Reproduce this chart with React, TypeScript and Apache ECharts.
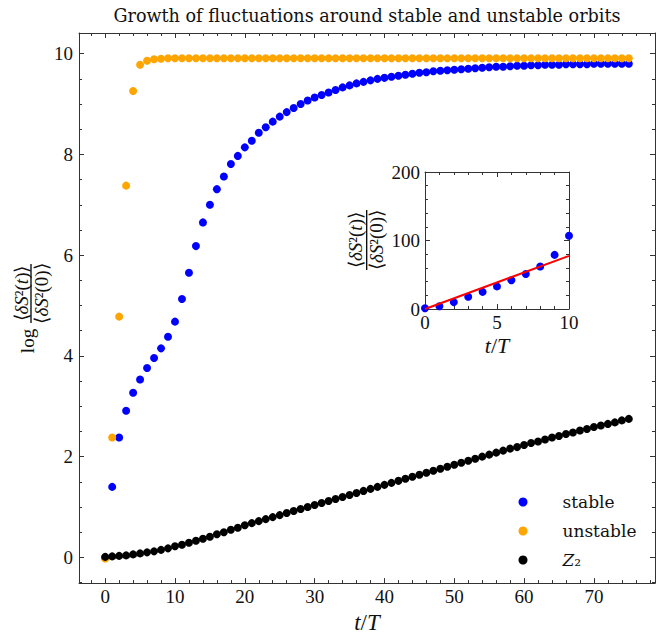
import React, { useEffect, useRef } from "react";
import * as echarts from "echarts";

const T = Array.from({ length: 76 }, (_, i) => i);

const STABLE = [
  0.0, 1.40, 2.38, 2.91, 3.27, 3.53, 3.76, 3.96, 4.15, 4.38,
  4.68, 5.13, 5.65, 6.18, 6.65, 7.00, 7.31, 7.56, 7.81, 7.97,
  8.14, 8.27, 8.43, 8.54, 8.65, 8.75, 8.84, 8.92, 9.00, 9.07,
  9.13, 9.18, 9.23, 9.28, 9.33, 9.37, 9.41, 9.44, 9.47, 9.50,
  9.52, 9.54, 9.56, 9.58, 9.60, 9.62, 9.63, 9.65, 9.66, 9.67,
  9.68, 9.69, 9.70, 9.71, 9.72, 9.73, 9.74, 9.74, 9.75, 9.76,
  9.76, 9.77, 9.77, 9.78, 9.78, 9.78, 9.79, 9.79, 9.79, 9.79,
  9.80, 9.80, 9.80, 9.80, 9.80, 9.80,
];

const UNSTABLE = [
  -0.02, 2.38, 4.78, 7.38, 9.26, 9.78, 9.86, 9.89, 9.90, 9.91,
  9.91, 9.91, 9.91, 9.91, 9.91, 9.91, 9.91, 9.91, 9.91, 9.91,
  9.91, 9.91, 9.91, 9.91, 9.91, 9.91, 9.91, 9.91, 9.91, 9.91,
  9.91, 9.91, 9.91, 9.91, 9.91, 9.91, 9.91, 9.91, 9.91, 9.91,
  9.91, 9.91, 9.91, 9.91, 9.91, 9.91, 9.91, 9.91, 9.91, 9.91,
  9.91, 9.91, 9.91, 9.91, 9.91, 9.91, 9.91, 9.91, 9.91, 9.91,
  9.91, 9.91, 9.91, 9.91, 9.91, 9.91, 9.91, 9.91, 9.91, 9.91,
  9.91, 9.91, 9.91, 9.91, 9.91, 9.91,
];

const Z2 = [
  0.01, 0.02, 0.03, 0.04, 0.06, 0.08, 0.10, 0.12, 0.15, 0.18,
  0.22, 0.25, 0.29, 0.33, 0.37, 0.41, 0.46, 0.50, 0.55, 0.59,
  0.64, 0.68, 0.72, 0.76, 0.80, 0.84, 0.88, 0.92, 0.96, 1.00,
  1.04, 1.08, 1.12, 1.16, 1.20, 1.24, 1.28, 1.32, 1.36, 1.40,
  1.44, 1.48, 1.52, 1.56, 1.60, 1.64, 1.68, 1.72, 1.76, 1.80,
  1.84, 1.88, 1.92, 1.96, 2.00, 2.04, 2.08, 2.12, 2.16, 2.19,
  2.23, 2.27, 2.30, 2.34, 2.38, 2.41, 2.45, 2.48, 2.52, 2.55,
  2.59, 2.62, 2.65, 2.68, 2.72, 2.75,
];

const INSET_T = [0, 1, 2, 3, 4, 5, 6, 7, 8, 9, 10];
const INSET_V = [1, 4, 10, 18, 25, 33, 42, 51, 62, 79, 107];
const FIT_T = [0, 10];
const FIT_V = [0, 77.5];

const X_MAJOR = [0, 10, 20, 30, 40, 50, 60, 70];
const X_MINOR = [-2, 2, 4, 6, 8, 12, 14, 16, 18, 22, 24, 26, 28, 32, 34, 36, 38, 42, 44, 46, 48, 52, 54, 56, 58, 62, 64, 66, 68, 72, 74, 76, 78];
const Y_MAJOR = [0, 2, 4, 6, 8, 10];
const Y_MINOR = [-0.5, 0.5, 1, 1.5, 2.5, 3, 3.5, 4.5, 5, 5.5, 6.5, 7, 7.5, 8.5, 9, 9.5];

const FONT = "Liberation Serif";
const WFONT = "DejaVu Serif";
const AX = { color: "#333", width: 1 };

function App() {
  const ref = useRef<HTMLDivElement>(null);
  useEffect(() => {
    if (!ref.current) return;
    const chart = echarts.init(ref.current, null, { renderer: "svg" });
    const zip = (a: number[], b: number[]) => a.map((v, i) => [v, b[i]]);

    const mk = (o: any) => ({
      type: "value",
      splitLine: { show: false },
      axisLine: { show: false, onZero: false, lineStyle: AX },
      axisLabel: { show: false },
      axisTick: { show: false },
      ...o,
    });

    const labelStyle = { fontFamily: FONT, fontSize: 19, color: "#111" };
    const YMIN = -0.51;
    const YMAX = 10.41;

    const xAxes = [
      mk({
        gridIndex: 0, min: -3.75, max: 78.75, position: "bottom",
        axisLine: { show: true, onZero: false, lineStyle: AX },
        axisTick: { show: true, inside: true, length: 5, lineStyle: AX, customValues: X_MAJOR },
        axisLabel: { show: true, customValues: X_MAJOR, margin: 4, ...labelStyle },
        name: "{i|t}/{i|T}", nameLocation: "middle", nameGap: 22,
        nameTextStyle: { fontFamily: FONT, fontSize: 23, color: "#111", rich: { i: { fontFamily: FONT, fontSize: 23, fontStyle: "italic", color: "#111" } } },
      }),
      mk({
        gridIndex: 0, min: -3.75, max: 78.75, position: "bottom",
        axisTick: { show: true, inside: true, length: 3, lineStyle: AX, customValues: X_MINOR },
      }),
      mk({
        gridIndex: 0, min: -3.75, max: 78.75, position: "top",
        axisLine: { show: true, onZero: false, lineStyle: AX },
        axisTick: { show: true, inside: true, length: 5, lineStyle: AX, customValues: X_MAJOR },
      }),
      mk({
        gridIndex: 0, min: -3.75, max: 78.75, position: "top",
        axisTick: { show: true, inside: true, length: 3, lineStyle: AX, customValues: X_MINOR },
      }),
      mk({
        gridIndex: 1, min: 0, max: 10, interval: 5, position: "bottom",
        axisLine: { show: true, onZero: false, lineStyle: AX },
        axisTick: { show: true, inside: true, length: 5, lineStyle: AX },
        minorTick: { show: true, splitNumber: 5, length: 3, lineStyle: AX },
        axisLabel: { show: true, margin: 4, ...labelStyle },
        name: "{i|t}/{i|T}", nameLocation: "middle", nameGap: 25,
        nameTextStyle: { fontFamily: FONT, fontSize: 22, color: "#111", rich: { i: { fontFamily: FONT, fontSize: 22, fontStyle: "italic", color: "#111" } } },
      }),
      mk({
        gridIndex: 1, min: 0, max: 10, interval: 5, position: "top",
        axisLine: { show: true, onZero: false, lineStyle: AX },
        axisTick: { show: true, inside: true, length: 5, lineStyle: AX },
        minorTick: { show: true, splitNumber: 5, length: 3, lineStyle: AX },
      }),
    ];

    const yAxes = [
      mk({
        gridIndex: 0, min: YMIN, max: YMAX, position: "left",
        axisLine: { show: true, onZero: false, lineStyle: AX },
        axisTick: { show: true, inside: true, length: 5, lineStyle: AX, customValues: Y_MAJOR },
        axisLabel: { show: true, customValues: Y_MAJOR, margin: 6, ...labelStyle },
      }),
      mk({
        gridIndex: 0, min: YMIN, max: YMAX, position: "left",
        axisTick: { show: true, inside: true, length: 3, lineStyle: AX, customValues: Y_MINOR },
      }),
      mk({
        gridIndex: 0, min: YMIN, max: YMAX, position: "right",
        axisLine: { show: true, onZero: false, lineStyle: AX },
        axisTick: { show: true, inside: true, length: 5, lineStyle: AX, customValues: Y_MAJOR },
      }),
      mk({
        gridIndex: 0, min: YMIN, max: YMAX, position: "right",
        axisTick: { show: true, inside: true, length: 3, lineStyle: AX, customValues: Y_MINOR },
      }),
      mk({
        gridIndex: 1, min: 0, max: 200, interval: 100, position: "left",
        axisLine: { show: true, onZero: false, lineStyle: AX },
        axisTick: { show: true, inside: true, length: 5, lineStyle: AX },
        minorTick: { show: true, splitNumber: 5, length: 3, lineStyle: AX },
        axisLabel: { show: true, margin: 5, ...labelStyle },
      }),
      mk({
        gridIndex: 1, min: 0, max: 200, interval: 100, position: "right",
        axisLine: { show: true, onZero: false, lineStyle: AX },
        axisTick: { show: true, inside: true, length: 5, lineStyle: AX },
        minorTick: { show: true, splitNumber: 5, length: 3, lineStyle: AX },
      }),
    ];

    const fracRich = {
      i: { fontFamily: FONT, fontSize: 19, fontStyle: "italic", fill: "#111" },
    };
    const fracText = (x: number, y: number, txt: string) => ({
      type: "text", x, y,
      style: { text: txt, rich: fracRich, fontFamily: FONT, fontSize: 19, fill: "#111", align: "center", verticalAlign: "middle" },
    });

    chart.setOption({
      animation: false,
      backgroundColor: "#fff",
      title: {
        text: "Growth of fluctuations around stable and unstable orbits",
        left: 367, top: 7, textAlign: "center", padding: 0,
        textStyle: { fontFamily: WFONT, fontSize: 17.6, fontWeight: "normal", color: "#111" },
      },
      grid: [
        { left: 79, top: 33, width: 576, height: 555, containLabel: false },
        { left: 425, top: 172, width: 144, height: 137, containLabel: false, show: true, backgroundColor: "#fff", borderWidth: 0 },
      ],
      legend: {
        data: ["stable", "unstable", "Z2"],
        orient: "vertical", left: 518.5, top: 492, itemGap: 9, padding: 0,
        icon: "circle", itemWidth: 9, itemHeight: 9,
        formatter: (n: string) => (n === "Z2" ? "{i|Z}₂" : n),
        textStyle: {
          fontFamily: WFONT, fontSize: 17, color: "#111", lineHeight: 20, padding: [0, 0, 0, 30],
          rich: { i: { fontFamily: WFONT, fontSize: 17, fontStyle: "italic", color: "#111", lineHeight: 20 } },
        },
      },
      xAxis: xAxes,
      yAxis: yAxes,
      series: [
        { name: "stable", type: "scatter", xAxisIndex: 0, yAxisIndex: 0, data: zip(T, STABLE), symbolSize: 8, itemStyle: { color: "#0000ff", opacity: 1 } },
        { name: "unstable", type: "scatter", xAxisIndex: 0, yAxisIndex: 0, data: zip(T, UNSTABLE), symbolSize: 8, itemStyle: { color: "#ffa500", opacity: 1 } },
        { name: "Z2", type: "scatter", xAxisIndex: 0, yAxisIndex: 0, data: zip(T, Z2), symbolSize: 8, itemStyle: { color: "#000000", opacity: 1 } },
        { type: "scatter", xAxisIndex: 4, yAxisIndex: 4, data: zip(INSET_T, INSET_V), symbolSize: 8, clip: true, itemStyle: { color: "#0000ff", opacity: 1 } },
        { type: "line", xAxisIndex: 4, yAxisIndex: 4, data: zip(FIT_T, FIT_V), showSymbol: false, symbol: "none", clip: true, lineStyle: { color: "#ff0000", width: 2 } },
      ],
      graphic: [
        {
          type: "group", x: 31, y: 293.5, rotation: Math.PI / 2,
          children: [
            { type: "text", x: -47.5, y: -4, style: { text: "log", fontFamily: FONT, fontSize: 19, fill: "#111", align: "center", verticalAlign: "middle" } },
            fracText(0, -10, "⟨{i|δS}²({i|t})⟩"),
            { type: "line", shape: { x1: -29.5, y1: 0, x2: 29.5, y2: 0 }, style: { stroke: "#000", lineWidth: 1.3 } },
            fracText(0, 10, "⟨{i|δS}²(0)⟩"),
          ],
        },
        {
          type: "group", x: 366.7, y: 240, rotation: Math.PI / 2,
          children: [
            fracText(0, -11, "⟨{i|δS}²({i|t})⟩"),
            { type: "line", shape: { x1: -30, y1: 0, x2: 30, y2: 0 }, style: { stroke: "#000", lineWidth: 1.3 } },
            fracText(0, 10, "⟨{i|δS}²(0)⟩"),
          ],
        },
      ],
    });
    return () => chart.dispose();
  }, []);
  return <div ref={ref} style={{ position: "fixed", left: 0, top: 0, width: 664, height: 639 }} />;
}

export default App;
